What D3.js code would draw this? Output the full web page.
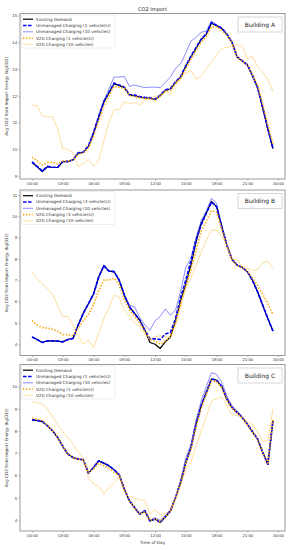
<!DOCTYPE html>
<html>
<head>
<meta charset="utf-8">
<script src="https://cdn.jsdelivr.net/npm/d3@7"></script>
<style>
  body { margin: 0; background: #fff; }
  svg { font-family: "DejaVu Sans", sans-serif; display: block; }
</style>
</head>
<body>
<div id="chart"></div>
<script>
// half-hourly time steps, 00:00 .. 23:30
const hours = d3.range(48).map(i => i / 2);
const tickHours = [0, 3, 6, 9, 12, 15, 18, 21, 24];
const tickLabels = ["00:00", "03:00", "06:00", "09:00", "12:00", "15:00", "18:00", "21:00", "00:00"];

const buildings = ["Building A", "Building B", "Building C"];
const seriesA = ["Existing Demand", "Unmanaged Charging (1 vehicle(s))", "Unmanaged Charging (10 vehicles)", "V2G Charging (1 vehicle(s))", "V2G Charging (10 vehicles)"];
const seriesB = ["Existing Demand", "Unmanaged Charging (3 vehicle(s))", "Unmanaged Charging (10 vehicles)", "V2G Charging (3 vehicle(s))", "V2G Charging (10 vehicles)"];
const seriesC = seriesA;

// Building A
const existingA = [9.50, 9.34, 9.16, 9.34, 9.31, 9.31, 9.53, 9.53, 9.59, 9.85, 9.88, 10.10, 10.60, 11.20, 11.76, 12.10, 12.45, 12.38, 12.30, 12.02, 12.00, 11.95, 11.92, 11.90, 11.85, 12.00, 12.20, 12.25, 12.50, 12.70, 13.10, 13.45, 13.77, 14.10, 14.30, 14.72, 14.62, 14.52, 14.30, 14.00, 13.45, 13.30, 13.15, 12.75, 12.30, 11.55, 10.75, 10.02];
const unmanaged1A = [9.52, 9.35, 9.18, 9.35, 9.32, 9.32, 9.54, 9.54, 9.60, 9.86, 9.89, 10.12, 10.62, 11.22, 11.78, 12.12, 12.47, 12.40, 12.32, 12.04, 12.02, 11.97, 11.94, 11.92, 11.87, 12.02, 12.22, 12.27, 12.52, 12.72, 13.12, 13.48, 13.80, 14.12, 14.32, 14.74, 14.63, 14.53, 14.31, 14.01, 13.46, 13.31, 13.16, 12.76, 12.31, 11.56, 10.76, 10.03];
const unmanaged10A = [9.50, 9.34, 9.16, 9.34, 9.31, 9.31, 9.53, 9.53, 9.59, 9.85, 9.88, 10.10, 10.60, 11.20, 11.80, 12.25, 12.70, 12.70, 12.72, 12.35, 12.40, 12.35, 12.30, 12.32, 12.32, 12.30, 12.50, 12.70, 13.02, 13.20, 13.60, 14.05, 14.18, 14.38, 14.42, 14.80, 14.66, 14.55, 14.30, 14.00, 13.45, 13.30, 13.15, 12.75, 12.30, 11.55, 10.75, 10.02];
const v2g1A = [9.70, 9.55, 9.40, 9.50, 9.50, 9.45, 9.55, 9.55, 9.60, 9.80, 9.85, 10.05, 10.48, 11.05, 11.60, 12.00, 12.35, 12.32, 12.28, 12.00, 11.97, 11.93, 11.90, 11.88, 11.85, 11.98, 12.15, 12.22, 12.45, 12.65, 13.02, 13.38, 13.70, 14.00, 14.22, 14.58, 14.58, 14.45, 14.28, 13.98, 13.45, 13.30, 13.15, 12.78, 12.38, 11.68, 10.90, 10.20];
const v2g10A = [11.65, 11.62, 11.25, 11.20, 11.22, 10.75, 10.00, 10.00, 9.85, 9.35, 9.45, 9.62, 9.35, 9.60, 10.30, 11.00, 11.48, 11.48, 11.78, 11.70, 11.75, 11.65, 11.85, 11.92, 11.98, 12.00, 12.20, 12.05, 12.50, 12.70, 12.85, 12.93, 12.62, 12.73, 13.00, 13.27, 13.52, 13.77, 13.81, 13.86, 13.92, 13.85, 13.38, 13.48, 13.10, 12.90, 12.60, 12.15];

// Building B
const existingB = [4.34, 4.22, 4.08, 4.16, 4.16, 4.14, 4.11, 4.22, 4.27, 4.90, 5.45, 5.90, 6.35, 7.15, 7.68, 7.43, 7.40, 7.00, 6.30, 5.75, 5.44, 5.13, 4.66, 4.08, 4.00, 3.80, 4.11, 4.34, 5.13, 6.04, 6.85, 7.71, 8.80, 9.67, 10.14, 10.69, 10.45, 9.51, 8.65, 7.98, 7.71, 7.60, 7.40, 7.00, 6.46, 5.83, 5.20, 4.62];
const unmanaged3B = [4.34, 4.22, 4.08, 4.16, 4.16, 4.14, 4.11, 4.22, 4.27, 4.90, 5.45, 5.90, 6.35, 7.15, 7.68, 7.43, 7.40, 7.00, 6.30, 5.75, 5.44, 5.13, 4.66, 4.25, 4.25, 4.22, 4.48, 4.55, 5.20, 6.20, 7.00, 7.90, 8.90, 9.60, 10.15, 10.66, 10.45, 9.51, 8.65, 7.98, 7.71, 7.60, 7.40, 7.00, 6.46, 5.83, 5.20, 4.62];
const unmanaged10B = [4.34, 4.22, 4.08, 4.16, 4.16, 4.14, 4.11, 4.22, 4.27, 4.90, 5.45, 5.90, 6.35, 7.15, 7.68, 7.45, 7.42, 7.02, 6.35, 5.82, 5.75, 5.25, 4.90, 4.65, 5.10, 5.30, 5.65, 5.35, 5.60, 6.50, 7.60, 8.05, 9.00, 9.80, 10.25, 10.84, 10.60, 9.60, 8.68, 8.00, 7.72, 7.60, 7.40, 7.00, 6.46, 5.83, 5.20, 4.62];
const v2g3B = [5.10, 4.90, 4.78, 4.75, 4.70, 4.60, 4.45, 4.45, 4.38, 4.75, 5.10, 5.40, 5.85, 6.50, 7.00, 7.00, 7.10, 6.80, 6.10, 5.60, 5.30, 5.00, 4.60, 4.20, 4.15, 4.00, 4.15, 4.35, 5.00, 5.90, 6.70, 7.50, 8.40, 9.30, 9.75, 10.25, 10.20, 9.40, 8.60, 7.95, 7.70, 7.60, 7.40, 7.10, 6.75, 6.35, 5.90, 5.40];
const v2g10B = [7.38, 7.05, 6.85, 6.60, 6.35, 5.80, 5.30, 5.30, 4.90, 4.40, 4.00, 4.20, 3.85, 4.50, 5.20, 5.70, 6.30, 6.20, 5.60, 5.30, 5.00, 4.80, 4.50, 4.25, 4.35, 4.40, 4.35, 4.30, 4.90, 5.80, 6.70, 7.10, 7.70, 8.30, 8.90, 9.35, 9.35, 9.05, 8.65, 8.00, 7.95, 7.65, 7.55, 7.45, 7.50, 7.80, 7.90, 7.55];

// Building C
const existingC = [8.49, 8.47, 8.42, 8.23, 8.00, 7.70, 7.30, 6.95, 6.80, 6.73, 6.70, 6.10, 6.35, 6.65, 6.55, 6.43, 6.25, 6.02, 5.38, 4.85, 4.55, 4.25, 4.40, 3.95, 4.03, 3.88, 4.13, 4.40, 5.00, 5.68, 6.58, 7.25, 8.30, 9.13, 9.73, 10.33, 10.28, 10.00, 9.43, 9.05, 8.83, 8.60, 8.30, 7.96, 7.63, 7.03, 6.50, 8.45];
const unmanaged1C = [8.50, 8.48, 8.43, 8.24, 8.01, 7.71, 7.31, 6.96, 6.81, 6.74, 6.71, 6.11, 6.36, 6.66, 6.56, 6.44, 6.26, 6.03, 5.39, 4.86, 4.56, 4.26, 4.41, 3.96, 4.04, 3.89, 4.14, 4.41, 5.01, 5.69, 6.59, 7.26, 8.31, 9.14, 9.74, 10.34, 10.29, 10.01, 9.44, 9.06, 8.84, 8.61, 8.31, 7.97, 7.64, 7.04, 6.51, 8.46];
const unmanaged10C = [8.49, 8.47, 8.42, 8.23, 8.00, 7.70, 7.30, 6.95, 6.80, 6.73, 6.70, 6.10, 6.35, 6.65, 6.55, 6.43, 6.25, 6.02, 5.40, 4.88, 4.58, 4.28, 4.45, 4.00, 4.10, 3.98, 4.20, 4.45, 5.05, 5.80, 6.80, 7.40, 8.50, 9.35, 10.00, 10.62, 10.55, 10.20, 9.58, 9.15, 8.90, 8.64, 8.32, 7.98, 7.64, 7.04, 6.50, 8.45];
const v2g1C = [8.57, 8.53, 8.47, 8.25, 8.00, 7.70, 7.30, 6.95, 6.80, 6.73, 6.70, 6.12, 6.30, 6.55, 6.45, 6.32, 6.15, 6.00, 5.38, 4.85, 4.55, 4.25, 4.38, 3.98, 4.05, 3.92, 4.15, 4.40, 5.00, 5.65, 6.55, 7.20, 8.20, 9.00, 9.65, 10.25, 10.22, 9.95, 9.40, 9.03, 8.82, 8.58, 8.28, 7.95, 7.62, 7.03, 6.55, 8.50];
const v2g10C = [9.30, 9.28, 9.20, 9.00, 8.65, 8.25, 7.95, 7.70, 7.40, 7.05, 6.75, 5.90, 5.62, 5.50, 5.15, 5.45, 5.65, 5.95, 5.25, 5.05, 4.98, 4.90, 4.88, 4.25, 4.48, 4.20, 4.30, 4.45, 4.95, 5.60, 6.25, 6.60, 7.30, 8.00, 8.65, 9.35, 9.45, 9.52, 9.15, 8.72, 8.70, 8.62, 8.40, 8.30, 7.95, 7.55, 7.55, 9.00];

const yTicksA = [9, 10, 11, 12, 13, 14, 15];
const yTicksB = [4, 5, 6, 7, 8, 9, 10, 11];
const yTicksC = [4, 5, 6, 7, 8, 9, 10];

// line styles, in legend/draw order
const styles = [
    { color: "#000000", width: 1.2, dash: null, opacity: 1 },
    { color: "#0000ff", width: 1.7, dash: "3.5,1.6", opacity: 1 },
    { color: "#0000ff", width: 1, dash: null, opacity: 0.45 },
    { color: "#ffa500", width: 1.7, dash: "1.3,1.8", opacity: 1 },
    { color: "#ffa500", width: 1, dash: null, opacity: 0.38 }
];

const panels = [
    { name: buildings[0], labels: seriesA, data: [existingA, unmanaged1A, unmanaged10A, v2g1A, v2g10A], top: 13.5, bottom: 179, domain: [8.88, 15.08], ticks: yTicksA },
    { name: buildings[1], labels: seriesB, data: [existingB, unmanaged3B, unmanaged10B, v2g3B, v2g10B], top: 190, bottom: 355.5, domain: [3.47, 11.23], ticks: yTicksB },
    { name: buildings[2], labels: seriesC, data: [existingC, unmanaged1C, unmanaged10C, v2g1C, v2g10C], top: 364.5, bottom: 531, domain: [3.5, 10.99], ticks: yTicksC }
];

const width = 291, height = 550;
const left = 20, right = 285;

const svg = d3.select("#chart").append("svg")
    .attr("width", width)
    .attr("height", height);

const x = d3.scaleLinear().domain([-1.175, 24.675]).range([left, right]);

svg.append("text")
    .attr("x", (left + right) / 2)
    .attr("y", 11)
    .attr("text-anchor", "middle")
    .style("font-size", "5px")
    .attr("fill", "#222")
    .text("CO2 Import");

panels.forEach((p, pi) => {
    const y = d3.scaleLinear().domain(p.domain).range([p.bottom, p.top]);
    const g = svg.append("g");

    // x axis
    g.append("g")
        .attr("transform", `translate(0, ${p.bottom})`)
        .call(d3.axisBottom(x).tickValues(tickHours).tickSize(1.5).tickPadding(1.5)
            .tickFormat((d, i) => tickLabels[i]))
        .call(a => a.select(".domain").remove())
        .call(a => a.selectAll("text").style("font-size", "4.2px").attr("fill", "#333"))
        .call(a => a.selectAll("line").attr("stroke", "#555").attr("stroke-width", 0.5));

    // y axis
    g.append("g")
        .attr("transform", `translate(${left}, 0)`)
        .call(d3.axisLeft(y).tickValues(p.ticks).tickSize(1.5).tickPadding(1.5).tickFormat(d3.format("d")))
        .call(a => a.select(".domain").remove())
        .call(a => a.selectAll("text").style("font-size", "4.2px").attr("fill", "#333"))
        .call(a => a.selectAll("line").attr("stroke", "#555").attr("stroke-width", 0.5));

    // y label
    g.append("text")
        .attr("transform", `translate(7.5, ${(p.top + p.bottom) / 2}) rotate(-90)`)
        .attr("text-anchor", "middle")
        .style("font-size", "4.2px")
        .attr("fill", "#333")
        .text("Avg CO2 from Import Energy (kgCO2)");

    // lines
    const line = d3.line()
        .x((d, i) => x(hours[i]))
        .y(d => y(d));

    p.data.forEach((vals, si) => {
        const s = styles[si];
        g.append("path")
            .datum(vals)
            .attr("fill", "none")
            .attr("stroke", s.color)
            .attr("stroke-width", s.width)
            .attr("stroke-opacity", s.opacity)
            .attr("stroke-dasharray", s.dash)
            .attr("stroke-linejoin", "round")
            .attr("d", line);
    });

    // frame
    g.append("rect")
        .attr("x", left)
        .attr("y", p.top)
        .attr("width", right - left)
        .attr("height", p.bottom - p.top)
        .attr("fill", "none")
        .attr("stroke", "#999")
        .attr("stroke-width", 1);

    // legend
    const legend = g.append("g")
        .attr("transform", `translate(21.5, ${p.top + 1.5})`);

    legend.append("rect")
        .attr("width", 93.5)
        .attr("height", 33)
        .attr("rx", 1.2)
        .attr("fill", "#fff")
        .attr("fill-opacity", 0.85)
        .attr("stroke", "#ddd")
        .attr("stroke-width", 0.5);

    p.labels.forEach((lab, si) => {
        const s = styles[si];
        const ly = 4.2 + si * 6.3;
        legend.append("line")
            .attr("x1", 1.5).attr("x2", 11.5)
            .attr("y1", ly).attr("y2", ly)
            .attr("stroke", s.color)
            .attr("stroke-width", s.width)
            .attr("stroke-opacity", s.opacity)
            .attr("stroke-dasharray", s.dash);
        legend.append("text")
            .attr("x", 14.5)
            .attr("y", ly)
            .attr("dy", "0.35em")
            .style("font-size", "4.2px")
            .attr("fill", "#333")
            .text(lab);
    });

    // building label
    const bx = 238, by = p.top + 3.5;
    g.append("rect")
        .attr("x", bx).attr("y", by)
        .attr("width", 44).attr("height", 15)
        .attr("fill", "#fff")
        .attr("stroke", "#ccc")
        .attr("stroke-width", 0.8);
    g.append("text")
        .attr("x", bx + 22)
        .attr("y", by + 7.7)
        .attr("dy", "0.35em")
        .attr("text-anchor", "middle")
        .style("font-size", "6px")
        .attr("fill", "#222")
        .text(p.name);

    if (pi === panels.length - 1) {
        svg.append("text")
            .attr("x", (left + right) / 2)
            .attr("y", p.bottom + 12.5)
            .attr("text-anchor", "middle")
            .style("font-size", "4.2px")
            .attr("fill", "#333")
            .text("Time of Day");
    }
});
</script>
</body>
</html>
